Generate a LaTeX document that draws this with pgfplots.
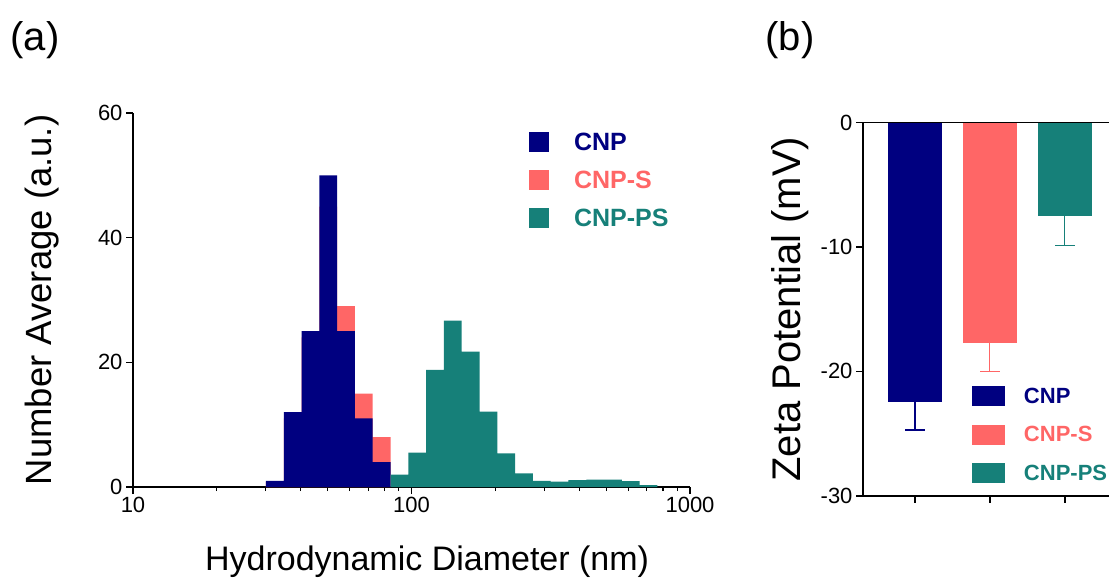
\documentclass[border=0pt]{standalone}
\usepackage{pgfplots}
\pgfplotsset{compat=1.18}
\usepackage{fontspec}
\setmainfont{Liberation Sans}
\definecolor{navyc}{RGB}{0,0,128}
\definecolor{pinkc}{RGB}{255,102,102}
\definecolor{tealc}{RGB}{22,128,121}
\begin{document}
\begin{tikzpicture}
\useasboundingbox (0,0) rectangle (1109pt,582pt);
\node[font=\fontsize{40}{44}\selectfont] at (35pt,542pt) {(a)};
\node[font=\fontsize{40}{44}\selectfont] at (790pt,542pt) {(b)};
\begin{axis}[
  at={(133pt,95pt)}, anchor=south west, scale only axis,
  width=557pt, height=374pt,
  xmode=log, xmin=10, xmax=1000, ymin=0, ymax=60,
  axis lines=left, axis line style={-, line width=1.6pt},
  xtick={10,100,1000}, xticklabels={10,100,1000},
  ytick={0,20,40,60}, yticklabels={0,20,40,60},
  tick align=outside, major tick length=7pt, minor tick length=4pt,
  tick style={line width=1.6pt, black},
  minor tick style={line width=1.2pt},
  tick label style={font=\fontsize{22}{26}\selectfont},
  xlabel={Hydrodynamic Diameter (nm)}, ylabel={Number Average (a.u.)},
  xlabel style={font=\fontsize{34}{40}\selectfont, at={(axis description cs:0.528,-0.222)}, anchor=base},
  ylabel style={font=\fontsize{36.5}{40}\selectfont, at={(axis description cs:-0.164,0.5)}, anchor=center},
  legend image code/.code={\fill[#1] (0pt,-10pt) rectangle (20pt,10pt);},
  legend style={at={(axis description cs:0.711,0.952)}, anchor=north west,
    draw=none, fill=none, inner sep=0pt, outer sep=0pt,
    font=\fontsize{25}{25}\selectfont\bfseries, row sep=15pt,
    /tikz/every odd column/.append style={column sep=23pt}},
  legend cell align=left,
]
\addlegendimage{fill=navyc, draw=none}
\addlegendentry{\textcolor{navyc}{CNP}}
\addlegendimage{fill=pinkc, draw=none}
\addlegendentry{\textcolor{pinkc}{CNP-S}}
\addlegendimage{fill=tealc, draw=none}
\addlegendentry{\textcolor{tealc}{CNP-PS}}
% CNP-S (behind)
\addplot[fill=pinkc, draw=none, const plot, forget plot] coordinates {
 (30.03,0.8) (34.78,11) (40.31,24) (46.70,45) (54.09,29) (62.66,15) (72.59,8) (84.09,8)
} \closedcycle;
% CNP
\addplot[fill=navyc, draw=none, const plot, forget plot] coordinates {
 (30.03,1) (34.78,12) (40.31,25) (46.70,50) (54.09,25) (62.66,11) (72.59,4) (84.09,4)
} \closedcycle;
% CNP-PS
\addplot[fill=tealc, draw=none, const plot, forget plot] coordinates {
 (84.09,2.0) (97.42,5.5) (112.86,18.8) (130.74,26.7) (151.46,21.7) (175.46,12.1)
 (203.26,5.4) (235.47,2.2) (272.78,1.0) (316.01,0.85) (366.08,1.1) (424.09,1.2)
 (491.29,1.2) (569.15,0.95) (659.33,0.3) (763.8,0.3)
} \closedcycle;
\end{axis}
\begin{axis}[
  at={(863pt,86.3pt)}, anchor=south west, scale only axis,
  width=246pt, height=373pt,
  xmin=0.31, xmax=3.59, ymin=-30, ymax=0,
  axis x line=box, axis y line=left, axis line style={-, line width=1.6pt},
  xtick={1,2,3}, xticklabels={}, xtick pos=left,
  ytick={0,-10,-20,-30}, yticklabels={0,-10,-20,-30},
  tick align=outside, major tick length=7pt,
  tick style={line width=1.6pt, black},
  tick label style={font=\fontsize{22}{26}\selectfont},
  ylabel={Zeta Potential (mV)},
  ylabel style={font=\fontsize{40}{44}\selectfont, at={(axis description cs:-0.297,0.5)}, anchor=center},
  legend image code/.code={\fill[#1] (0pt,-10pt) rectangle (33pt,10pt);},
  legend style={at={(axis description cs:0.443,0.294)}, anchor=north west,
    draw=none, fill=none, inner sep=0pt, outer sep=0pt,
    font=\fontsize{22}{22}\selectfont\bfseries, row sep=17.5pt,
    /tikz/every odd column/.append style={column sep=17pt}},
  legend cell align=left,
]
\addlegendimage{fill=navyc, draw=none}
\addlegendentry{\textcolor{navyc}{CNP}}
\addlegendimage{fill=pinkc, draw=none}
\addlegendentry{\textcolor{pinkc}{CNP-S}}
\addlegendimage{fill=tealc, draw=none}
\addlegendentry{\textcolor{tealc}{CNP-PS}}
\addplot[ybar, bar width=54pt, bar shift=0pt, fill=navyc, draw=none, forget plot,
  error bars/.cd, y dir=minus, y explicit,
  error bar style={line width=2.2pt, navyc},
  error mark options={rotate=90, line width=2.2pt, mark size=10pt, navyc}]
  coordinates {(1,-22.5) +- (0,2.2)};
\addplot[ybar, bar width=54pt, bar shift=0pt, fill=pinkc, draw=none, forget plot,
  error bars/.cd, y dir=minus, y explicit,
  error bar style={line width=1.2pt, pinkc},
  error mark options={rotate=90, line width=1.2pt, mark size=10pt, pinkc}]
  coordinates {(2,-17.75) +- (0,2.25)};
\addplot[ybar, bar width=54pt, bar shift=0pt, fill=tealc, draw=none, forget plot,
  error bars/.cd, y dir=minus, y explicit,
  error bar style={line width=1.2pt, tealc},
  error mark options={rotate=90, line width=1.2pt, mark size=10pt, tealc}]
  coordinates {(3,-7.5) +- (0,2.4)};
\end{axis}
\end{tikzpicture}
\end{document}
